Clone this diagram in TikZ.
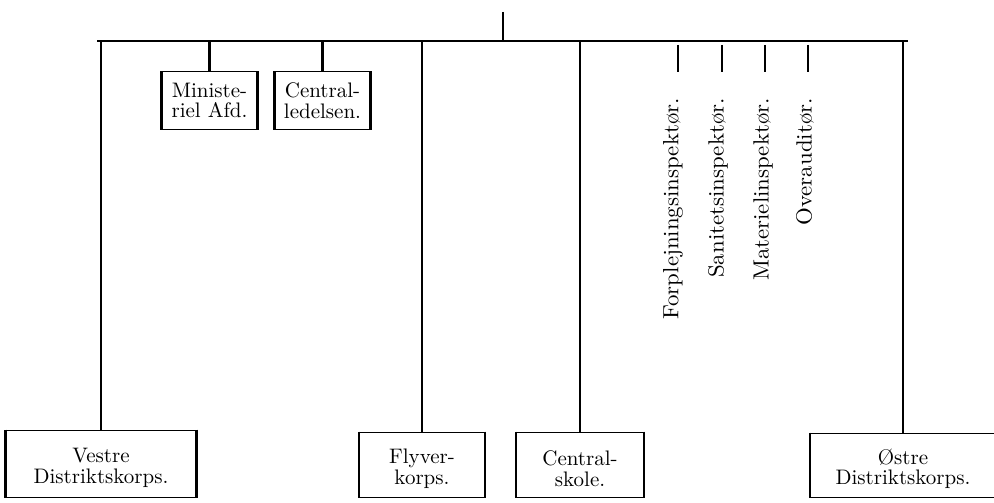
\documentclass[tikz,border=0pt]{standalone}
\usepackage{fontspec}
\setmainfont{lmroman10-regular.otf}[BoldFont=lmroman10-bold.otf, ItalicFont=lmroman10-italic.otf]
\usepackage{graphicx}
\newcommand\wideT[1]{\scalebox{1.04}[1]{#1}}
\newcommand\dnstrut{\rule{0pt}{23pt}}
\begin{document}
\begin{tikzpicture}[x=1pt,y=-1pt,
  txt/.style={font=\fontsize{21}{20.5}\selectfont, align=center, inner sep=0pt},
  orgbox/.style={txt, draw, line width=1pt, minimum width=#1},
  side/.style={line width=2.4pt},
  bar/.style={line width=2.6pt},
  conn/.style={line width=2pt},
  stub/.style={line width=2.4pt},
  rot/.style={txt, font=\fontsize{22}{22}\selectfont, rotate=90, anchor=east}]
\useasboundingbox (0,0) rectangle (994,503);

% top and bar
\coordinate (topend) at (503,12);
\coordinate (barL) at (97,41);
\coordinate (barR) at (908,41);
\coordinate (topjoin) at (503,40);
\draw[stub] (topend) -- (topjoin);
\draw[bar] (barL) -- (barR);

% upper boxes
\node[orgbox=95pt, minimum height=57pt] (minist) at (209.5,100.5) {Ministe-\\riel Afd.};
\node[orgbox=95pt, minimum height=57pt] (cled) at (322.5,100.5) {Central-\\ledelsen.};

% bottom boxes
\node[orgbox=190pt, minimum height=67pt] (vestre) at (101,463.5) {\dnstrut Vestre\\Distriktskorps.};
\node[orgbox=125pt, minimum height=65pt] (flyver) at (422,464.5) {\dnstrut Flyver-\\korps.};
\node[orgbox=127pt, minimum height=65pt] (cskole) at (580,464.5) {\dnstrut Central-\\skole.};
\node[orgbox=185pt, minimum height=64pt] (ostre) at (903,465) {\dnstrut Østre\\Distriktskorps.};

\foreach \n in {minist,cled,vestre,flyver,cskole,ostre}
  \draw[side] (\n.north west) -- (\n.south west) (\n.north east) -- (\n.south east);

% connectors from bar
\draw[stub] (minist.north |- barL) -- (minist.north);
\draw[stub] (cled.north |- barL) -- (cled.north);
\draw[conn] (vestre.north |- barL) -- (vestre.north);
\draw[conn] (flyver.north |- barL) -- (flyver.north);
\draw[conn] (cskole.north |- barL) -- (cskole.north);
\draw[conn] (ostre.north |- barL) -- (ostre.north);

% inspectors
\coordinate (s1) at (678,72);
\coordinate (s2) at (722,72);
\coordinate (s3) at (765,72);
\coordinate (s4) at (808,72);
\foreach \s in {s1,s2,s3,s4}
  \draw[stub] (\s |- barL) ++(0,4) -- (\s);
\node[rot] (l1) at (673,98) {\wideT{Forplejningsinspektør.}};
\node[rot] (l2) at (718,98) {\wideT{Sanitetsinspektør.}};
\node[rot] (l3) at (763,98) {\wideT{Materielinspektør.}};
\node[rot] (l4) at (805,98) {\wideT{Overauditør.}};
\end{tikzpicture}
\end{document}
